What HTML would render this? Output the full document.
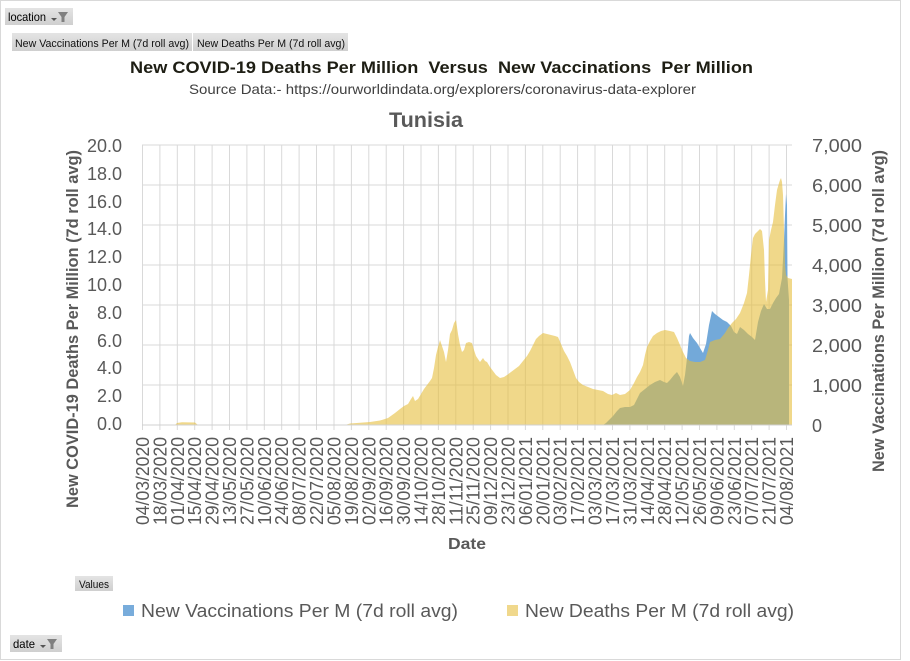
<!DOCTYPE html>
<html><head><meta charset="utf-8"><style>
html,body{margin:0;padding:0;background:#fff;}
svg{display:block;font-family:"Liberation Sans",sans-serif;}
</style></head><body>
<svg width="910" height="661" viewBox="0 0 910 661" xmlns="http://www.w3.org/2000/svg">
<defs>
<linearGradient id="btn" x1="0" y1="0" x2="0" y2="1"><stop offset="0" stop-color="#e4e4e4"/><stop offset="1" stop-color="#cfcfcf"/></linearGradient>
</defs>
<rect x="0" y="0" width="910" height="661" fill="#fff"/>
<rect x="0.5" y="0.5" width="900" height="659" fill="none" stroke="#d9d9d9" stroke-width="1"/>

<!-- location button -->
<rect x="5" y="8" width="68" height="17" fill="url(#btn)"/>
<text x="8" y="21" font-size="12" fill="#000" textLength="38" lengthAdjust="spacingAndGlyphs">location</text>
<polygon points="51,18 57,18 54,21" fill="#555"/>
<polygon points="58,12 68,12 64.5,17 64.5,22 61.5,22 61.5,17" fill="#808080"/>

<!-- field buttons -->
<rect x="12" y="33" width="180" height="18" fill="url(#btn)"/>
<rect x="193" y="33" width="155" height="18" fill="url(#btn)"/>
<text x="15" y="47" font-size="11" fill="#111" textLength="174" lengthAdjust="spacingAndGlyphs">New Vaccinations Per M (7d roll avg)</text>
<text x="197" y="47" font-size="11" fill="#111" textLength="148" lengthAdjust="spacingAndGlyphs">New Deaths Per M (7d roll avg)</text>

<!-- titles -->
<text xml:space="preserve" x="130" y="73" font-size="17" font-weight="bold" fill="#1e1e14" textLength="623" lengthAdjust="spacingAndGlyphs">New COVID-19 Deaths Per Million  Versus  New Vaccinations  Per Million</text>
<text x="189" y="94" font-size="14" fill="#404040" textLength="507" lengthAdjust="spacingAndGlyphs">Source Data:- https://ourworldindata.org/explorers/coronavirus-data-explorer</text>
<text x="389" y="127" font-size="21" font-weight="bold" fill="#595959" textLength="74" lengthAdjust="spacingAndGlyphs">Tunisia</text>

<!-- gridlines -->
<g stroke="#d9d9d9" stroke-width="1">
<line x1="142" y1="145" x2="792" y2="145"/>
<line x1="142" y1="185" x2="792" y2="185"/>
<line x1="142" y1="225" x2="792" y2="225"/>
<line x1="142" y1="265" x2="792" y2="265"/>
<line x1="142" y1="305" x2="792" y2="305"/>
<line x1="142" y1="345" x2="792" y2="345"/>
<line x1="142" y1="385" x2="792" y2="385"/>
</g>
<g stroke="#d9d9d9" stroke-width="1">
<line x1="142.5" y1="145" x2="142.5" y2="430"/>
<line x1="159.9" y1="145" x2="159.9" y2="430"/>
<line x1="177.3" y1="145" x2="177.3" y2="430"/>
<line x1="194.7" y1="145" x2="194.7" y2="430"/>
<line x1="212.1" y1="145" x2="212.1" y2="430"/>
<line x1="229.5" y1="145" x2="229.5" y2="430"/>
<line x1="246.9" y1="145" x2="246.9" y2="430"/>
<line x1="264.3" y1="145" x2="264.3" y2="430"/>
<line x1="281.7" y1="145" x2="281.7" y2="430"/>
<line x1="299.1" y1="145" x2="299.1" y2="430"/>
<line x1="316.5" y1="145" x2="316.5" y2="430"/>
<line x1="334.0" y1="145" x2="334.0" y2="430"/>
<line x1="351.4" y1="145" x2="351.4" y2="430"/>
<line x1="368.8" y1="145" x2="368.8" y2="430"/>
<line x1="386.2" y1="145" x2="386.2" y2="430"/>
<line x1="403.6" y1="145" x2="403.6" y2="430"/>
<line x1="421.0" y1="145" x2="421.0" y2="430"/>
<line x1="438.4" y1="145" x2="438.4" y2="430"/>
<line x1="455.8" y1="145" x2="455.8" y2="430"/>
<line x1="473.2" y1="145" x2="473.2" y2="430"/>
<line x1="490.6" y1="145" x2="490.6" y2="430"/>
<line x1="508.0" y1="145" x2="508.0" y2="430"/>
<line x1="525.4" y1="145" x2="525.4" y2="430"/>
<line x1="542.8" y1="145" x2="542.8" y2="430"/>
<line x1="560.2" y1="145" x2="560.2" y2="430"/>
<line x1="577.6" y1="145" x2="577.6" y2="430"/>
<line x1="595.0" y1="145" x2="595.0" y2="430"/>
<line x1="612.5" y1="145" x2="612.5" y2="430"/>
<line x1="629.9" y1="145" x2="629.9" y2="430"/>
<line x1="647.3" y1="145" x2="647.3" y2="430"/>
<line x1="664.7" y1="145" x2="664.7" y2="430"/>
<line x1="682.1" y1="145" x2="682.1" y2="430"/>
<line x1="699.5" y1="145" x2="699.5" y2="430"/>
<line x1="716.9" y1="145" x2="716.9" y2="430"/>
<line x1="734.3" y1="145" x2="734.3" y2="430"/>
<line x1="751.7" y1="145" x2="751.7" y2="430"/>
<line x1="769.1" y1="145" x2="769.1" y2="430"/>
<line x1="786.5" y1="145" x2="786.5" y2="430"/>
</g>

<!-- series -->
<path fill="#73a9d9" d="M603,425 L606,423 610,419 613,416 617,411 620,408 625,407 630,407 634,405 637,399 640,393 645,389 650,385 655,382 660,380 664,382 667,383 670,380 674,375 677,372 680,377 683,386 685,375 687,358 689,336 690,333 693,338 697,343 700,348 703,353 706,344 709,325 712,311 715,314 719,317 723,320 727,322 731,326 734,332 737,334 740,327 744,330 748,334 752,337 755,340 758,322 761,311 764,304 767,309 770,309 773,303 776,298 779,294 782,278 784,240 785,215 786,194 787,205 787.5,278 789,300 789,425 Z"/>
<path fill="rgb(230,190,60)" fill-opacity="0.6" d="M142.5,425 L175,425 177,423 182,422.3 195,422.5 198,425 345,425 350,423.5 360,422.8 370,422 380,420.5 388,418 395,413 400,409 404,406 408,404 411,399 413,396 415,401 418,399 421,394 424,389 427,385 430,381 432,378 434,368 436,355 438,347 440,340 442,346 444,352 446,362 448,350 450,334 452,330 454,323 456,320 458,334 460,345 462,352 464,350 466,343 469,342 472,343 474,350 476,356 478,359 480,362 483,358 485,361 487,362 490,367 493,371 496,375 500,378 504,377 507,375 511,372 515,369 519,366 523,361 527,356 530,351 533,345 536,339 539,336 543,333 547,334 551,335 555,336 558,337 561,344 564,351 567,356 570,362 573,370 576,378 579,382 583,385 588,387 593,389 598,390 603,391 608,394 612,395 616,393 620,395 625,394 630,390 634,383 637,377 640,372 643,365 645,355 647,347 650,341 653,336 657,333 661,331 665,330 670,331 674,332 677,338 680,345 683,352 686,358 690,361 695,362 700,362 705,360 708,350 710,342 715,340 720,339 725,333 728,328 732,323 736,319 740,313 744,303 747,293 749,275 751,255 753,238 755,234 757,232 760,229 762,231 764,250 765,280 766,302 768,290 769,240 771,230 773,222 775,205 777,190 779,183 780,180 781,178 782,182 783,195 784,230 785,265 786,275 788,278 792,279 792,425 Z"/>

<line x1="142" y1="425" x2="792" y2="425" stroke="#d0d0d0" stroke-width="1"/>

<!-- left axis labels -->
<g font-size="18" fill="#595959" text-anchor="end">
<text x="122" y="152">20.0</text>
<text x="122" y="180">18.0</text>
<text x="122" y="208">16.0</text>
<text x="122" y="235">14.0</text>
<text x="122" y="263">12.0</text>
<text x="122" y="291">10.0</text>
<text x="122" y="319">8.0</text>
<text x="122" y="347">6.0</text>
<text x="122" y="374">4.0</text>
<text x="122" y="402">2.0</text>
<text x="122" y="430">0.0</text>
</g>

<!-- right axis labels -->
<g font-size="18" fill="#595959">
<text x="812" y="152" textLength="50" lengthAdjust="spacingAndGlyphs">7,000</text>
<text x="812" y="192" textLength="50" lengthAdjust="spacingAndGlyphs">6,000</text>
<text x="812" y="232" textLength="50" lengthAdjust="spacingAndGlyphs">5,000</text>
<text x="812" y="272" textLength="50" lengthAdjust="spacingAndGlyphs">4,000</text>
<text x="812" y="312" textLength="50" lengthAdjust="spacingAndGlyphs">3,000</text>
<text x="812" y="352" textLength="50" lengthAdjust="spacingAndGlyphs">2,000</text>
<text x="812" y="392" textLength="50" lengthAdjust="spacingAndGlyphs">1,000</text>
<text x="812" y="432">0</text>
</g>

<!-- axis titles -->
<text transform="translate(78,329) rotate(-90)" text-anchor="middle" font-size="17" font-weight="bold" fill="#595959" textLength="358" lengthAdjust="spacingAndGlyphs">New COVID-19 Deaths Per Million (7d roll avg)</text>
<text transform="translate(884,311) rotate(-90)" text-anchor="middle" font-size="17" font-weight="bold" fill="#595959" textLength="322" lengthAdjust="spacingAndGlyphs">New Vaccinations Per Million (7d roll avg)</text>
<text x="448" y="549" font-size="16" font-weight="bold" fill="#595959" textLength="38" lengthAdjust="spacingAndGlyphs">Date</text>

<!-- x labels -->
<g font-size="18" fill="#595959" text-anchor="end">
<text transform="translate(149.0,437) rotate(-90)" textLength="88" lengthAdjust="spacingAndGlyphs">04/03/2020</text>
<text transform="translate(166.4,437) rotate(-90)" textLength="88" lengthAdjust="spacingAndGlyphs">18/03/2020</text>
<text transform="translate(183.8,437) rotate(-90)" textLength="88" lengthAdjust="spacingAndGlyphs">01/04/2020</text>
<text transform="translate(201.2,437) rotate(-90)" textLength="88" lengthAdjust="spacingAndGlyphs">15/04/2020</text>
<text transform="translate(218.6,437) rotate(-90)" textLength="88" lengthAdjust="spacingAndGlyphs">29/04/2020</text>
<text transform="translate(236.0,437) rotate(-90)" textLength="88" lengthAdjust="spacingAndGlyphs">13/05/2020</text>
<text transform="translate(253.4,437) rotate(-90)" textLength="88" lengthAdjust="spacingAndGlyphs">27/05/2020</text>
<text transform="translate(270.8,437) rotate(-90)" textLength="88" lengthAdjust="spacingAndGlyphs">10/06/2020</text>
<text transform="translate(288.2,437) rotate(-90)" textLength="88" lengthAdjust="spacingAndGlyphs">24/06/2020</text>
<text transform="translate(305.6,437) rotate(-90)" textLength="88" lengthAdjust="spacingAndGlyphs">08/07/2020</text>
<text transform="translate(323.0,437) rotate(-90)" textLength="88" lengthAdjust="spacingAndGlyphs">22/07/2020</text>
<text transform="translate(340.5,437) rotate(-90)" textLength="88" lengthAdjust="spacingAndGlyphs">05/08/2020</text>
<text transform="translate(357.9,437) rotate(-90)" textLength="88" lengthAdjust="spacingAndGlyphs">19/08/2020</text>
<text transform="translate(375.3,437) rotate(-90)" textLength="88" lengthAdjust="spacingAndGlyphs">02/09/2020</text>
<text transform="translate(392.7,437) rotate(-90)" textLength="88" lengthAdjust="spacingAndGlyphs">16/09/2020</text>
<text transform="translate(410.1,437) rotate(-90)" textLength="88" lengthAdjust="spacingAndGlyphs">30/09/2020</text>
<text transform="translate(427.5,437) rotate(-90)" textLength="88" lengthAdjust="spacingAndGlyphs">14/10/2020</text>
<text transform="translate(444.9,437) rotate(-90)" textLength="88" lengthAdjust="spacingAndGlyphs">28/10/2020</text>
<text transform="translate(462.3,437) rotate(-90)" textLength="88" lengthAdjust="spacingAndGlyphs">11/11/2020</text>
<text transform="translate(479.7,437) rotate(-90)" textLength="88" lengthAdjust="spacingAndGlyphs">25/11/2020</text>
<text transform="translate(497.1,437) rotate(-90)" textLength="88" lengthAdjust="spacingAndGlyphs">09/12/2020</text>
<text transform="translate(514.5,437) rotate(-90)" textLength="88" lengthAdjust="spacingAndGlyphs">23/12/2020</text>
<text transform="translate(531.9,437) rotate(-90)" textLength="88" lengthAdjust="spacingAndGlyphs">06/01/2021</text>
<text transform="translate(549.3,437) rotate(-90)" textLength="88" lengthAdjust="spacingAndGlyphs">20/01/2021</text>
<text transform="translate(566.7,437) rotate(-90)" textLength="88" lengthAdjust="spacingAndGlyphs">03/02/2021</text>
<text transform="translate(584.1,437) rotate(-90)" textLength="88" lengthAdjust="spacingAndGlyphs">17/02/2021</text>
<text transform="translate(601.5,437) rotate(-90)" textLength="88" lengthAdjust="spacingAndGlyphs">03/03/2021</text>
<text transform="translate(619.0,437) rotate(-90)" textLength="88" lengthAdjust="spacingAndGlyphs">17/03/2021</text>
<text transform="translate(636.4,437) rotate(-90)" textLength="88" lengthAdjust="spacingAndGlyphs">31/03/2021</text>
<text transform="translate(653.8,437) rotate(-90)" textLength="88" lengthAdjust="spacingAndGlyphs">14/04/2021</text>
<text transform="translate(671.2,437) rotate(-90)" textLength="88" lengthAdjust="spacingAndGlyphs">28/04/2021</text>
<text transform="translate(688.6,437) rotate(-90)" textLength="88" lengthAdjust="spacingAndGlyphs">12/05/2021</text>
<text transform="translate(706.0,437) rotate(-90)" textLength="88" lengthAdjust="spacingAndGlyphs">26/05/2021</text>
<text transform="translate(723.4,437) rotate(-90)" textLength="88" lengthAdjust="spacingAndGlyphs">09/06/2021</text>
<text transform="translate(740.8,437) rotate(-90)" textLength="88" lengthAdjust="spacingAndGlyphs">23/06/2021</text>
<text transform="translate(758.2,437) rotate(-90)" textLength="88" lengthAdjust="spacingAndGlyphs">07/07/2021</text>
<text transform="translate(775.6,437) rotate(-90)" textLength="88" lengthAdjust="spacingAndGlyphs">21/07/2021</text>
<text transform="translate(793.0,437) rotate(-90)" textLength="88" lengthAdjust="spacingAndGlyphs">04/08/2021</text>
</g>

<!-- Values button -->
<rect x="75" y="576" width="38" height="15" fill="url(#btn)"/>
<text x="79" y="588" font-size="11" fill="#111" textLength="30" lengthAdjust="spacingAndGlyphs">Values</text>

<!-- legend -->
<rect x="123" y="605" width="11" height="11" fill="#78acdb"/>
<text x="141" y="617" font-size="18" fill="#595959" textLength="317" lengthAdjust="spacingAndGlyphs">New Vaccinations Per M (7d roll avg)</text>
<rect x="507" y="605" width="11" height="11" fill="#f0d88c"/>
<text x="525" y="617" font-size="18" fill="#595959" textLength="269" lengthAdjust="spacingAndGlyphs">New Deaths Per M (7d roll avg)</text>

<!-- date button -->
<rect x="10" y="635" width="52" height="17" fill="url(#btn)"/>
<text x="13" y="648" font-size="12" fill="#000" textLength="22" lengthAdjust="spacingAndGlyphs">date</text>
<polygon points="40,645 46,645 43,648" fill="#555"/>
<polygon points="47,639 57,639 53.5,644 53.5,649 50.5,649 50.5,644" fill="#808080"/>
</svg>
</body></html>
